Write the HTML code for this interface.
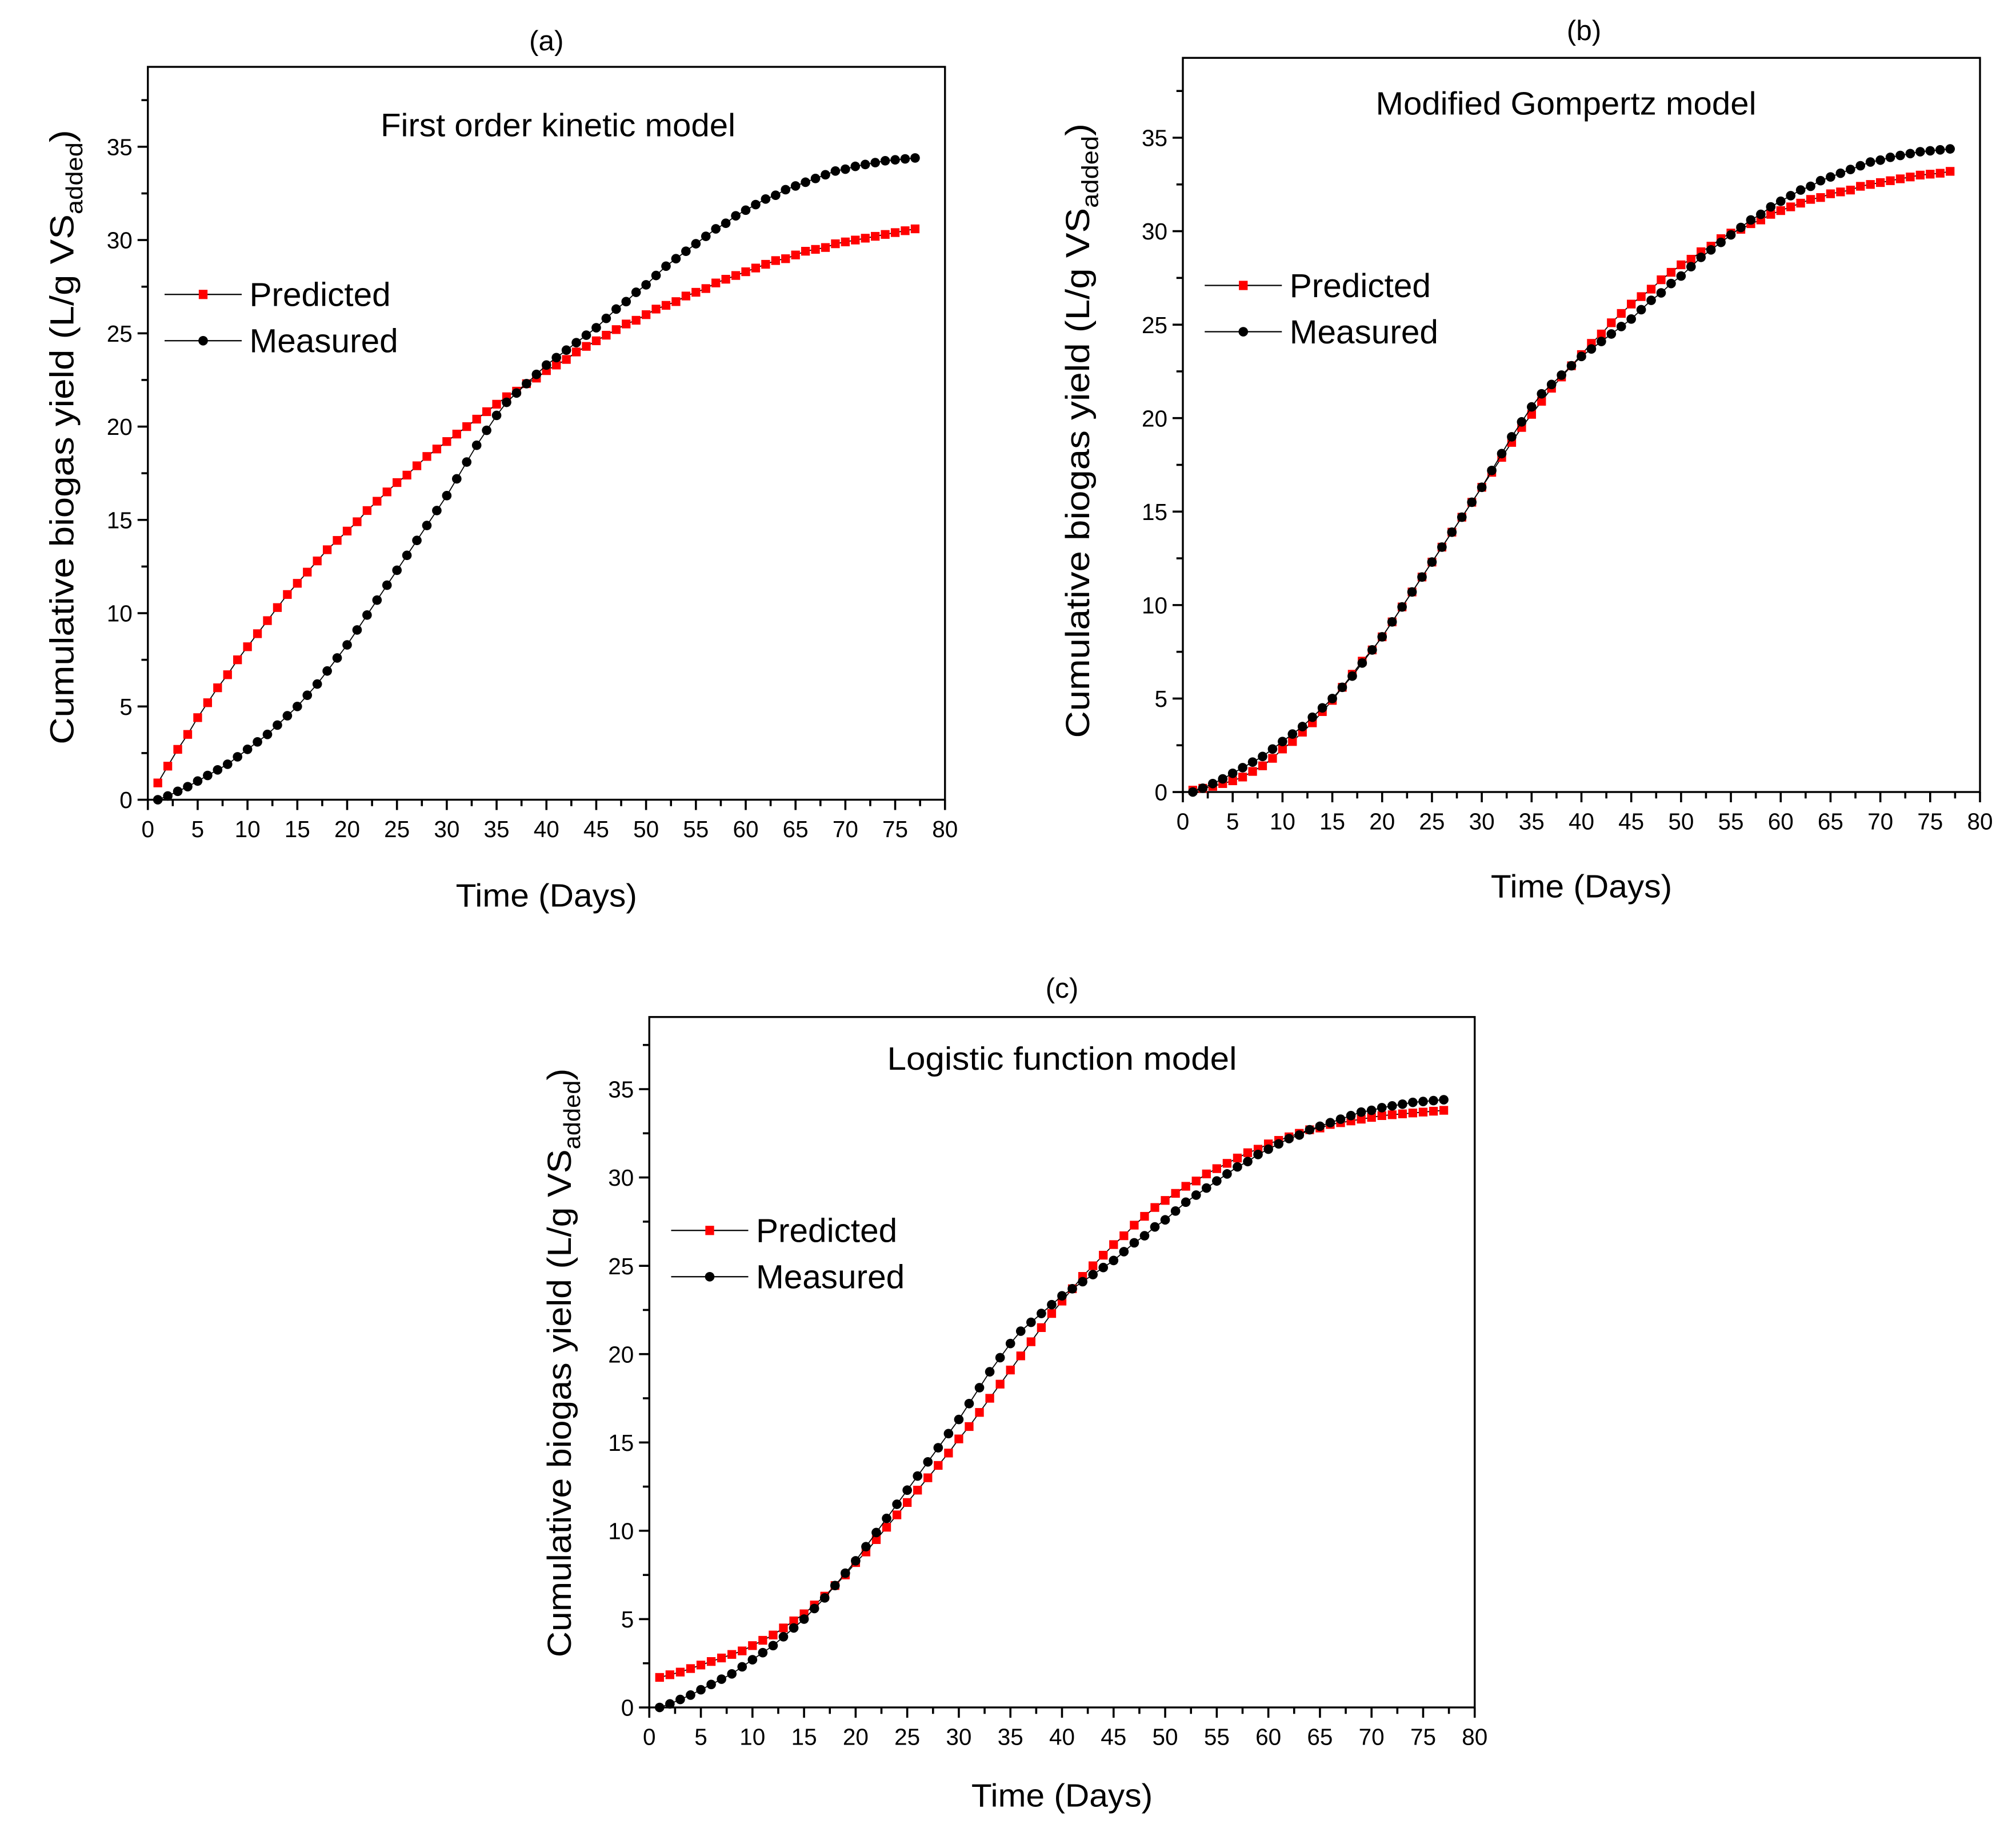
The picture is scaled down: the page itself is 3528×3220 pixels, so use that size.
<!DOCTYPE html>
<html><head><meta charset="utf-8"><style>html,body{margin:0;padding:0;background:#fff}svg{display:block}</style></head>
<body>
<svg id="fig" xmlns="http://www.w3.org/2000/svg" width="3528" height="3220" viewBox="0 0 1568 1431.1" font-family="Liberation Sans, sans-serif"></svg>
<script>
const days = Array.from({length:77},(_,i)=>i+1);
const measured = [0.0,0.2,0.45,0.7,1.0,1.3,1.6,1.9,2.3,2.7,3.1,3.5,4.0,4.5,5.0,5.6,6.2,6.9,7.6,8.3,9.1,9.9,10.7,11.5,12.3,13.1,13.9,14.7,15.5,16.3,17.2,18.1,19.0,19.8,20.6,21.3,21.8,22.3,22.8,23.3,23.7,24.1,24.5,24.9,25.3,25.8,26.3,26.7,27.2,27.6,28.1,28.6,29.0,29.4,29.8,30.2,30.6,30.9,31.3,31.6,31.9,32.2,32.4,32.7,32.9,33.1,33.3,33.5,33.7,33.8,33.95,34.05,34.15,34.25,34.3,34.35,34.4];
const predictedFirstOrder = [0.9,1.8,2.7,3.5,4.4,5.2,6.0,6.7,7.5,8.2,8.9,9.6,10.3,11.0,11.6,12.2,12.8,13.4,13.9,14.4,14.9,15.5,16.0,16.5,17.0,17.4,17.9,18.4,18.8,19.2,19.6,20.0,20.4,20.8,21.2,21.6,21.9,22.3,22.6,23.0,23.3,23.6,24.0,24.3,24.6,24.9,25.2,25.5,25.7,26.0,26.3,26.5,26.7,27.0,27.2,27.4,27.7,27.9,28.1,28.3,28.5,28.7,28.9,29.0,29.2,29.4,29.5,29.6,29.8,29.9,30.0,30.1,30.2,30.3,30.4,30.5,30.6];
const predictedGompertz = [0.1,0.2,0.3,0.45,0.6,0.8,1.1,1.4,1.8,2.3,2.7,3.2,3.7,4.3,4.9,5.6,6.3,7.0,7.6,8.3,9.1,9.9,10.7,11.5,12.3,13.1,13.9,14.7,15.5,16.3,17.1,17.9,18.7,19.5,20.2,20.9,21.6,22.2,22.8,23.4,24.0,24.5,25.1,25.6,26.1,26.5,26.9,27.4,27.8,28.2,28.5,28.9,29.2,29.6,29.9,30.1,30.4,30.6,30.9,31.1,31.3,31.5,31.7,31.8,32.0,32.1,32.2,32.4,32.5,32.6,32.7,32.8,32.9,33.0,33.05,33.1,33.2];
const predictedLogistic = [1.7,1.85,2.0,2.2,2.4,2.6,2.8,3.0,3.2,3.5,3.8,4.1,4.5,4.9,5.3,5.8,6.3,6.9,7.5,8.2,8.8,9.5,10.2,10.9,11.6,12.3,13.0,13.7,14.4,15.2,15.9,16.7,17.5,18.3,19.1,19.9,20.7,21.5,22.3,23.0,23.7,24.4,25.0,25.6,26.2,26.7,27.3,27.8,28.3,28.7,29.1,29.5,29.8,30.2,30.5,30.8,31.1,31.4,31.6,31.9,32.1,32.3,32.5,32.7,32.8,33.0,33.1,33.2,33.3,33.4,33.5,33.55,33.6,33.65,33.7,33.75,33.8];
const xTicks = [0,5,10,15,20,25,30,35,40,45,50,55,60,65,70,75,80];
const yTicks = [0,5,10,15,20,25,30,35];

const NS='http://www.w3.org/2000/svg';
const svg=document.getElementById('fig');
function mk(tag,attrs,parent){const e=document.createElementNS(NS,tag);for(const k in attrs)e.setAttribute(k,attrs[k]);(parent||svg).appendChild(e);return e;}
function txt(s,attrs,parent){const e=mk('text',attrs,parent);e.textContent=s;return e;}

const panels=[
 {id:'a',x0:115,x1:735,yb:622,ppu:14.51,top:52,pred:predictedFirstOrder,label:'(a)',lx:425,ly:39,title:'First order kinetic model',tx:434,ty:106,tl:276,xt:705,ytx:57,yty:340,yl:478,lgx:128,lgy:229},
 {id:'b',x0:920,x1:1540,yb:616,ppu:14.54,top:45,pred:predictedGompertz,label:'(b)',lx:1232,ly:31,title:'Modified Gompertz model',tx:1218,ty:89,tl:296,xt:698,ytx:847,yty:335,yl:478,lgx:937,lgy:222},
 {id:'c',x0:505,x1:1147,yb:1328,ppu:13.74,top:791,pred:predictedLogistic,label:'(c)',lx:826,ly:776,title:'Logistic function model',tx:826,ty:832,tl:272,xt:1405,ytx:444,yty:1060,yl:458,lgx:522,lgy:957}
];

panels.forEach(p=>{
 const g=mk('g',{});
 
 
 const X=v=>p.x0+(p.x1-p.x0)*v/80;
 const Y=v=>p.yb-v*p.ppu;
 const f=mk('rect',{x:p.x0,y:p.top,width:p.x1-p.x0,height:p.yb-p.top,fill:'none',stroke:'#000','stroke-width':1.5},g);
 
 
 const xa=mk('g',{},g);
 
 
 xTicks.forEach(t=>{
  mk('line',{x1:X(t),x2:X(t),y1:p.yb,y2:p.yb+8,stroke:'#000','stroke-width':1.6},xa);
  if(t<80) mk('line',{x1:X(t+2.5),x2:X(t+2.5),y1:p.yb,y2:p.yb+5,stroke:'#000','stroke-width':1.6},xa);
  txt(String(t),{x:X(t),y:p.yb+29,'font-size':18,'text-anchor':'middle'},xa);
 });
 const ya=mk('g',{},g);
 
 
 yTicks.forEach(t=>{
  mk('line',{x1:p.x0-8,x2:p.x0,y1:Y(t),y2:Y(t),stroke:'#000','stroke-width':1.6},ya);
  txt(String(t),{x:p.x0-12,y:Y(t)+6.5,'font-size':18,'text-anchor':'end'},ya);
 });
 for(let m=2.5;Y(m)>p.top+2;m+=5) mk('line',{x1:p.x0-5,x2:p.x0,y1:Y(m),y2:Y(m),stroke:'#000','stroke-width':1.6},ya);
 const pl=txt(p.label,{x:p.lx,y:p.ly,'font-size':22,'text-anchor':'middle'},g);
 
 
 const tt=txt(p.title,{x:p.tx,y:p.ty,'font-size':25,'text-anchor':'middle',textLength:p.tl,lengthAdjust:'spacingAndGlyphs'},g);
 
 
 const xt=txt('Time (Days)',{x:(p.x0+p.x1)/2,y:p.xt,'font-size':25,'text-anchor':'middle',textLength:141,lengthAdjust:'spacingAndGlyphs'},g);
 
 
 const yt=mk('text',{x:-p.yl/2,y:0,'font-size':26,textLength:p.yl,lengthAdjust:'spacingAndGlyphs',transform:`translate(${p.ytx},${p.yty}) rotate(-90)`},g);
 
 
 yt.innerHTML='Cumulative biogas yield (L/g VS<tspan font-size="18" dy="7">added</tspan><tspan dy="-7">)</tspan>';
 const series=[{vals:p.pred,color:'#ff0000',shape:'sq',name:'predicted'},{vals:measured,color:'#000',shape:'ci',name:'measured'}];
 series.forEach(s=>{
  const sg=mk('g',{},g);
  
  
  mk('polyline',{points:days.map((d,i)=>X(d)+','+Y(s.vals[i])).join(' '),fill:'none',stroke:'#000','stroke-width':0.8},sg);
  days.forEach((d,i)=>{
   let m;
   if(s.shape==='sq') m=mk('rect',{x:X(d)-3.4,y:Y(s.vals[i])-3.4,width:6.8,height:6.8,fill:s.color},sg);
   else m=mk('circle',{cx:X(d),cy:Y(s.vals[i]),r:3.7,fill:s.color},sg);
   
   
  });
 });
 const lg=mk('g',{},g);
 
 
 [['Predicted','sq','#ff0000'],['Measured','ci','#000']].forEach((e,k)=>{
  const ly=p.lgy+k*36;
  const le=mk('g',{},lg);
  
  
  mk('line',{x1:p.lgx,x2:p.lgx+60,y1:ly,y2:ly,stroke:'#000','stroke-width':1},le);
  if(e[1]==='sq') mk('rect',{x:p.lgx+26.6,y:ly-3.6,width:6.8,height:7.2,fill:e[2]},le);
  else mk('circle',{cx:p.lgx+30,cy:ly,r:3.7,fill:e[2]},le);
  txt(e[0],{x:p.lgx+66,y:ly+9,'font-size':26},le);
 });
});
</script>
</body></html>
